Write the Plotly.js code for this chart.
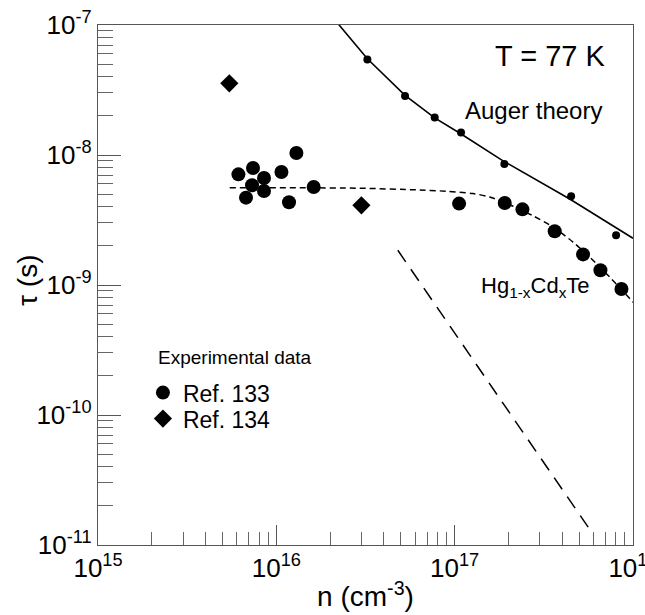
<!DOCTYPE html>
<html>
<head>
<meta charset="utf-8">
<script src="https://cdn.plot.ly/plotly-3.0.1.min.js"></script>
<style>html,body{margin:0;padding:0;background:#fff;}#chart{width:645px;height:615px;}</style>
</head>
<body>
<div id="chart"></div>
<script>
// Ref. 133 experimental data (n in cm^-3, tau in s)
const ref133N   = [6.13e15, 7.40e15, 8.53e15, 7.31e15, 8.53e15, 6.76e15, 1.068e16, 1.296e16, 1.178e16, 1.62e16, 1.059e17, 1.91e17, 2.40e17, 3.64e17, 5.25e17, 6.57e17, 8.62e17];
const ref133Tau = [7.10e-9, 7.94e-9, 6.65e-9, 5.85e-9, 5.28e-9, 4.70e-9, 7.40e-9, 1.036e-8, 4.33e-9, 5.67e-9, 4.23e-9, 4.27e-9, 3.82e-9, 2.59e-9, 1.72e-9, 1.30e-9, 9.31e-10];
// Ref. 134 experimental data
const ref134N   = [5.45e15, 3.0e16];
const ref134Tau = [3.56e-8, 4.10e-9];
// Auger theory points
const augerPtsN   = [3.24e16, 5.27e16, 7.73e16, 1.086e17, 1.90e17, 4.50e17, 8.04e17];
const augerPtsTau = [5.42e-8, 2.84e-8, 1.94e-8, 1.49e-8, 8.53e-9, 4.81e-9, 2.41e-9];
// Auger theory curve
const augerLineN   = [1.94e16, 2.25e16, 3.24e16, 5.27e16, 7.73e16, 1.082e17, 1.868e17, 4.42e17, 1.0e18];
const augerLineTau = [1.30e-7, 1.0e-7, 5.50e-8, 2.88e-8, 1.932e-8, 1.456e-8, 9.02e-9, 4.59e-9, 2.29e-9];
// Fit curve (short dashes)
const fitN   = [5.48e15, 1.35e16, 2.93e16, 6.37e16, 9.0e16, 1.268e17, 1.573e17, 2.13e17, 2.75e17, 3.56e17, 4.61e17, 5.72e17, 7.41e17, 9.59e17, 1.0e18];
const fitTau = [5.61e-9, 5.60e-9, 5.55e-9, 5.38e-9, 5.26e-9, 5.05e-9, 4.75e-9, 4.03e-9, 3.41e-9, 2.79e-9, 2.14e-9, 1.64e-9, 1.15e-9, 7.86e-10, 7.36e-10];
// Hg1-xCdxTe line (long dashes)
const hgN   = [4.8e16, 6.0e17];
const hgTau = [1.85e-9, 1.2e-11];

const xTickVals = [1e15, 1e16, 1e17, 1e18];
const xTickText = ['10<sup>15</sup>', '10<sup>16</sup>', '10<sup>17</sup>', '10<sup>18</sup>'];
const yTickVals = [1e-11, 1e-10, 1e-9, 1e-8, 1e-7];
const yTickText = ['10<sup>-11</sup>', '10<sup>-10</sup>', '10<sup>-9</sup>', '10<sup>-8</sup>', '10<sup>-7</sup>'];

function minorVals(lo, hi) {
  const out = [];
  for (let e = lo; e < hi; e++) for (let m = 2; m <= 9; m++) out.push(m * Math.pow(10, e));
  return out;
}

const F = 'Liberation Sans, Arial, sans-serif';

const traces = [
  {x: augerLineN, y: augerLineTau, mode: 'lines', line: {color: '#000', width: 1.6}, showlegend: false, hoverinfo: 'skip'},
  {x: fitN, y: fitTau, mode: 'lines', line: {color: '#000', width: 1.5, dash: '6px,4px', shape: 'spline', smoothing: 0.8}, showlegend: false, hoverinfo: 'skip'},
  {x: hgN, y: hgTau, mode: 'lines', line: {color: '#000', width: 1.5, dash: '14px,9px'}, showlegend: false, hoverinfo: 'skip'},
  {x: augerPtsN, y: augerPtsTau, mode: 'markers', marker: {color: '#000', size: 8, symbol: 'circle'}, showlegend: false},
  {x: ref133N, y: ref133Tau, mode: 'markers', name: 'Ref. 133', legend: 'legend', marker: {color: '#000', size: 14, symbol: 'circle'}},
  {x: ref134N, y: ref134Tau, mode: 'markers', name: 'Ref. 134', legend: 'legend2', marker: {color: '#000', size: 14, symbol: 'diamond'}}
];

const legFont = {size: 23, family: F};
const layout = {
  width: 645, height: 615,
  margin: {l: 98, r: 12, t: 25, b: 70, pad: 0},
  paper_bgcolor: '#fff', plot_bgcolor: '#fff',
  font: {family: F, color: '#000'},
  showlegend: true,
  legend:  {x: 0.084, y: 0.293, xanchor: 'left', yanchor: 'middle', font: legFont, bgcolor: 'rgba(0,0,0,0)', borderwidth: 0, itemwidth: 30},
  legend2: {x: 0.084, y: 0.243, xanchor: 'left', yanchor: 'middle', font: legFont, bgcolor: 'rgba(0,0,0,0)', borderwidth: 0, itemwidth: 30},
  xaxis: {
    type: 'log', range: [15, 18.0002],
    showgrid: false, zeroline: false,
    showline: true, linecolor: '#555', linewidth: 1.2, mirror: true,
    ticks: 'inside', ticklen: 20, tickcolor: '#555', tickwidth: 1,
    tickmode: 'array', tickvals: xTickVals, ticktext: xTickText,
    ticklabeloverflow: 'allow',
    tickfont: {size: 26, family: F},
    minor: {tickmode: 'array', tickvals: minorVals(15, 18), ticks: 'inside', ticklen: 13, tickcolor: '#666', tickwidth: 1, showgrid: false},
    title: {text: 'n (cm<sup>-3</sup>)', font: {size: 28, family: F}, standoff: 4}
  },
  yaxis: {
    type: 'log', range: [-11, -7],
    showgrid: false, zeroline: false,
    showline: true, linecolor: '#555', linewidth: 1.2, mirror: true,
    ticks: 'inside', ticklen: 23, tickcolor: '#555', tickwidth: 1,
    tickmode: 'array', tickvals: yTickVals, ticktext: yTickText,
    tickfont: {size: 26, family: F},
    minor: {tickmode: 'array', tickvals: minorVals(-11, -7), ticks: 'inside', ticklen: 15, tickcolor: '#666', tickwidth: 1, showgrid: false}
  },
  annotations: [
    {text: 'τ (s)', xref: 'paper', yref: 'paper', x: -0.1315, y: 0.509, xanchor: 'center', yanchor: 'middle', textangle: -90, showarrow: false, font: {size: 28, family: F}},
    {text: 'T = 77 K', xref: 'paper', yref: 'paper', x: 0.954, y: 0.941, xanchor: 'right', yanchor: 'middle', showarrow: false, font: {size: 29, family: F}},
    {text: 'Auger theory', xref: 'paper', yref: 'paper', x: 0.945, y: 0.835, xanchor: 'right', yanchor: 'middle', showarrow: false, font: {size: 24, family: F}},
    {text: 'Hg<sub>1-x</sub>Cd<sub>x</sub>Te', xref: 'paper', yref: 'paper', x: 0.712, y: 0.497, xanchor: 'left', yanchor: 'middle', showarrow: false, font: {size: 22, family: F}},
    {text: 'Experimental data', xref: 'paper', yref: 'paper', x: 0.108, y: 0.36, xanchor: 'left', yanchor: 'middle', showarrow: false, font: {size: 19, family: F}}
  ]
};

Plotly.newPlot('chart', traces, layout, {staticPlot: true, displayModeBar: false});
</script>
</body>
</html>
